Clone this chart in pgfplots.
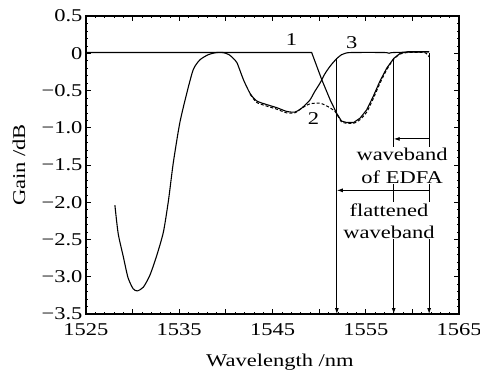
\documentclass[border=0pt]{standalone}
\usepackage{fontspec}
\setmainfont{Liberation Serif}[FakeStretch=1.25]
\usepackage{pgfplots}
\pgfplotsset{compat=1.18}
\usetikzlibrary{arrows.meta}
\begin{document}
\begin{tikzpicture}[font=\fontsize{18bp}{22bp}\selectfont]
\begin{axis}[name=ax,
  scale only axis, width=373bp, height=298bp,
  xmin=1525, xmax=1565, ymin=-3.5, ymax=0.5,
  xtick={1525,1530,...,1565},
  xticklabels={1525,,1535,,1545,,1555,,1565},
  ytick={-3.5,-3,...,0.5},
  yticklabels={−3.5,−3.0,−2.5,−2.0,−1.5,−1.0,−0.5,0,0.5},
  minor x tick num=4, minor y tick num=4,
  major tick length=5bp, minor tick length=2bp,
  tick align=inside,
  axis line style={line width=1.1bp},
  every tick/.style={line width=0.8bp, black},
  every minor tick/.style={line width=0.5bp, black},
  xticklabel style={yshift=-6bp},
  xlabel={Wavelength /nm}, ylabel={Gain /dB},
  xlabel style={at={(axis description cs:0.52,-0.1768)}, anchor=base},
  ylabel style={at={(axis description cs:-0.1635,0.5)}, anchor=base},
]
% EDFA gain (curve 3)
\addplot[black, line width=1.1bp, smooth, tension=0.4] coordinates {
(1528.1,-2.04) (1528.45,-2.42) (1529.0,-2.73) (1529.5,-3.01) (1530.05,-3.16)
(1530.5,-3.19) (1531.15,-3.14) (1531.85,-2.98) (1532.55,-2.73) (1533.3,-2.40)
(1533.85,-1.97) (1534.35,-1.48) (1535.05,-0.94) (1535.8,-0.54) (1536.5,-0.22)
(1537.2,-0.09) (1538.1,-0.02) (1539.0,0.01) (1539.7,0.01) (1540.35,-0.02)
(1540.8,-0.07) (1541.2,-0.13) (1541.9,-0.36) (1542.6,-0.54) (1543.3,-0.64)
(1544.4,-0.69) (1545.45,-0.73) (1546.5,-0.78) (1547.4,-0.79) (1548.1,-0.74)
(1549.0,-0.63) (1549.5,-0.52) (1550.1,-0.40) (1550.6,-0.28) (1551.2,-0.17)
(1551.9,-0.07) (1552.4,-0.02) (1552.8,0.0) (1553.5,0.01) (1557.0,0.01)
(1557.5,0.0) (1558.0,0.01) (1561.8,0.02)
};
% filter (curve 1)
\addplot[black, line width=1.1bp] coordinates {
(1525,0.01) (1549.2,0.01) (1550.3,-0.36) (1551.2,-0.63) (1551.9,-0.81)
(1552.4,-0.91) (1552.95,-0.93) (1553.7,-0.93) (1554.4,-0.87) (1555.1,-0.76)
(1555.8,-0.58) (1556.5,-0.38) (1557.25,-0.20) (1558.0,-0.07) (1558.7,0.0)
(1559.5,0.02) (1561.8,0.02)
};
% flattened (curve 2)
\addplot[black, line width=1.0bp, dash pattern=on 3bp off 2bp, smooth, tension=0.4] coordinates {
(1542.6,-0.55) (1543.3,-0.66) (1544.4,-0.71) (1545.45,-0.75) (1546.5,-0.80)
(1547.4,-0.80) (1548.1,-0.74) (1549.0,-0.68) (1550.1,-0.67) (1551.0,-0.72)
(1551.7,-0.78) (1552.0,-0.84) (1552.4,-0.92) (1552.95,-0.94) (1553.7,-0.94)
(1554.4,-0.89) (1555.1,-0.79) (1555.8,-0.61) (1556.5,-0.41) (1557.25,-0.22)
(1558.0,-0.08) (1558.7,-0.01) (1559.5,0.01) (1561.3,0.01) (1561.8,-0.05)
};
% arrows
\draw[line width=0.9bp, -{Latex[length=6bp,width=4bp]}] (axis cs:1551.9,-0.07) -- (axis cs:1551.9,-3.5);
\draw[line width=0.9bp, -{Latex[length=6bp,width=4bp]}] (axis cs:1558.0,-0.07) -- (axis cs:1558.0,-3.5);
\draw[line width=0.9bp, -{Latex[length=6bp,width=4bp]}] (axis cs:1561.8,0.0) -- (axis cs:1561.8,-3.5);
\draw[line width=0.9bp, -{Latex[length=6bp,width=4bp]}] (axis cs:1561.8,-1.15) -- (axis cs:1558.0,-1.15);
\draw[line width=0.9bp, -{Latex[length=6bp,width=4bp]}] (axis cs:1561.8,-1.84) -- (axis cs:1551.9,-1.84);
\node[fill=white, inner sep=1bp, align=center, font=\fontsize{18bp}{23bp}\selectfont] at (axis cs:1558.9,-1.507) {waveband\\of EDFA};
\node[fill=white, inner sep=1bp, align=center, font=\fontsize{18bp}{22bp}\selectfont] at (axis cs:1557.5,-2.25) {flattened\\waveband};
\node at (axis cs:1547.05,0.18) {1};
\node at (axis cs:1549.4,-0.88) {2};
\node at (axis cs:1553.5,0.14) {3};
\end{axis}
\pgfresetboundingbox
\path[use as bounding box] ([shift={(-86bp,-57bp)}]ax.south west) rectangle ([shift={(394bp,314bp)}]ax.south west);
\end{tikzpicture}
\end{document}
